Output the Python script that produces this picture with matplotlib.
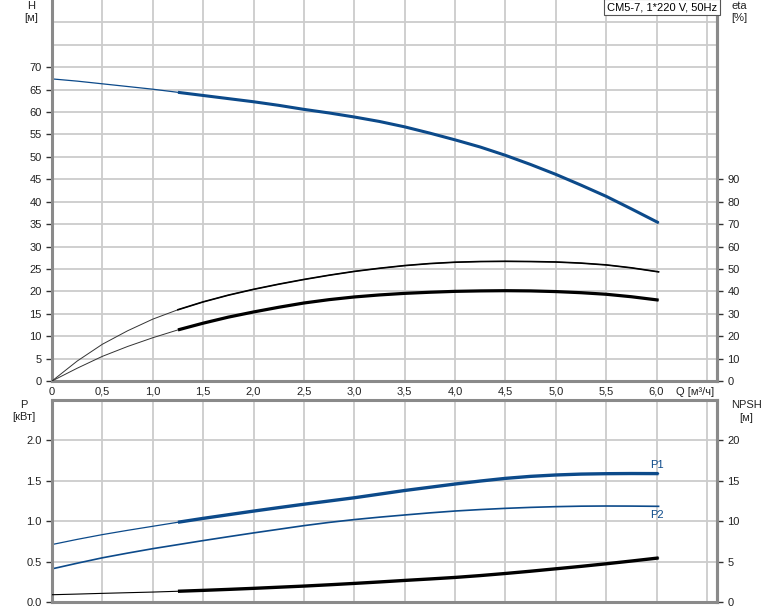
import matplotlib
matplotlib.use("Agg")
import matplotlib.pyplot as plt
import numpy as np

plt.rcParams['font.family'] = ['Liberation Sans', 'DejaVu Sans']

# ---- data ----
Q = [0, 0.25, 0.5, 0.75, 1.0, 1.25, 1.5, 1.75, 2.0, 2.25, 2.5, 2.75, 3.0, 3.25, 3.5,
     3.75, 4.0, 4.25, 4.5, 4.75, 5.0, 5.25, 5.5, 5.75, 6.02]
H = [67.4, 66.9, 66.3, 65.7, 65.1, 64.4, 63.7, 63.0, 62.3, 61.5, 60.6, 59.8, 58.9, 57.9, 56.7,
     55.3, 53.8, 52.2, 50.35, 48.3, 46.1, 43.7, 41.2, 38.4, 35.3]
eta1 = [0, 8.9, 16.4, 22.4, 27.6, 31.8, 35.3, 38.3, 40.9, 43.2, 45.3, 47.2, 48.9, 50.3, 51.5,
        52.4, 53.0, 53.3, 53.4, 53.3, 53.1, 52.6, 51.8, 50.5, 48.7]
eta2 = [0, 5.7, 11.0, 15.4, 19.3, 22.8, 25.8, 28.5, 30.8, 32.9, 34.8, 36.3, 37.5, 38.4, 39.1,
        39.6, 40.0, 40.2, 40.3, 40.2, 39.9, 39.4, 38.7, 37.6, 36.1]
P1 = [0.711, 0.775, 0.834, 0.887, 0.937, 0.987, 1.035, 1.08, 1.125, 1.168, 1.21, 1.25, 1.29,
      1.335, 1.38, 1.42, 1.46, 1.497, 1.53, 1.555, 1.572, 1.583, 1.588, 1.59, 1.589]
P2 = [0.41, 0.48, 0.547, 0.605, 0.66, 0.71, 0.76, 0.808, 0.855, 0.90, 0.945, 0.985, 1.02,
      1.05, 1.077, 1.103, 1.126, 1.144, 1.159, 1.171, 1.18, 1.186, 1.188, 1.187, 1.184]
NPSH = [0.9, 0.98, 1.07, 1.15, 1.23, 1.33, 1.44, 1.56, 1.69, 1.83, 1.97, 2.13, 2.30, 2.48, 2.67,
        2.85, 3.04, 3.27, 3.53, 3.81, 4.11, 4.41, 4.73, 5.07, 5.45]

x_ticks = [0, 0.5, 1.0, 1.5, 2.0, 2.5, 3.0, 3.5, 4.0, 4.5, 5.0, 5.5, 6.0]
x_labels = ['0', '0,5', '1,0', '1,5', '2,0', '2,5', '3,0', '3,5', '4,0', '4,5', '5,0', '5,5', '6,0']
h_ticks = [0, 5, 10, 15, 20, 25, 30, 35, 40, 45, 50, 55, 60, 65, 70]
h_extra_grid = [75, 80]
eta_ticks = [0, 10, 20, 30, 40, 50, 60, 70, 80, 90]
p_ticks = [0.0, 0.5, 1.0, 1.5, 2.0]
p_labels = ['0.0', '0.5', '1.0', '1.5', '2.0']
npsh_ticks = [0, 5, 10, 15, 20]
title_text = "CM5-7, 1*220 V, 50Hz"

start = 5  # operating range starts at Q=1.25

W, Hpx = 774, 611
fig = plt.figure(figsize=(W / 100, Hpx / 100), dpi=100)

L = 52 / W
R = 717 / W
ax1 = fig.add_axes([L, 1 - 381 / Hpx, R - L, 381 / Hpx])
ax2 = fig.add_axes([L, 1 - 602 / Hpx, R - L, (602 - 400) / Hpx])

blue = '#0c4a8a'
grid_c = '#cccccc'
spine_c = '#8a8a8a'
txt_c = '#222222'
fs = 8


def style(ax):
    ax.set_xlim(0, 6.6)
    ax.set_xticks(x_ticks)
    ax.set_xticks([6.5], minor=True)
    ax.grid(True, which='both', color=grid_c, linewidth=1.3)
    ax.set_axisbelow(True)
    for s in ['left', 'right', 'bottom', 'top']:
        ax.spines[s].set_color(spine_c)
        ax.spines[s].set_linewidth(2.2)
    ax.tick_params(axis='both', colors=txt_c, labelsize=fs, length=4, width=1, direction='out')
    ax.tick_params(axis='y', color='#333333')
    ax.tick_params(axis='x', length=0, which='both')
    ax.tick_params(axis='y', which='minor', length=0)


# ---- top axes ----
style(ax1)
ax1.spines['top'].set_visible(False)
ax1.set_ylim(0, 85)
ax1.set_yticks(h_ticks)
ax1.set_yticklabels([str(v) for v in h_ticks])
ax1.set_yticks(h_extra_grid, minor=True)
ax1.set_xticklabels(x_labels)
ax1.tick_params(axis='x', pad=4)

ax1.plot(Q, H, color=blue, lw=0.9)
ax1.plot(Q[start:], H[start:], color=blue, lw=2.2, solid_capstyle='butt')

ax1e = ax1.twinx()
ax1e.set_ylim(0, 170)
ax1e.set_yticks(eta_ticks)
ax1e.set_yticklabels([str(v) for v in eta_ticks])
for s in ['left', 'bottom', 'top']:
    ax1e.spines[s].set_visible(False)
ax1e.spines['right'].set_color(spine_c)
ax1e.spines['right'].set_linewidth(2.2)
ax1e.tick_params(axis='y', colors=txt_c, color='#333333', labelsize=fs, length=4, width=1)
ax1e.plot(Q, eta1, color='#333333', lw=0.7)
ax1e.plot(Q[start:], eta1[start:], color='black', lw=1.2)
ax1e.plot(Q, eta2, color='#333333', lw=0.7)
ax1e.plot(Q[start:], eta2[start:], color='black', lw=2.3, solid_capstyle='butt')

# ---- bottom axes ----
style(ax2)
ax2.set_ylim(0, 2.5)
ax2.set_yticks(p_ticks)
ax2.set_yticklabels(p_labels)
ax2.set_xticklabels([])
ax2.plot(Q, P1, color=blue, lw=0.9)
ax2.plot(Q[start:], P1[start:], color=blue, lw=2.4, solid_capstyle='butt')
ax2.plot(Q, P2, color=blue, lw=1.2)

ax2n = ax2.twinx()
ax2n.set_ylim(0, 25)
ax2n.set_yticks(npsh_ticks)
for s in ['left', 'bottom', 'top']:
    ax2n.spines[s].set_visible(False)
ax2n.spines['right'].set_color(spine_c)
ax2n.spines['right'].set_linewidth(2.2)
ax2n.tick_params(axis='y', colors=txt_c, color='#333333', labelsize=fs, length=4, width=1)
ax2n.plot(Q, NPSH, color='black', lw=0.8)
ax2n.plot(Q[start:], NPSH[start:], color='black', lw=2.4, solid_capstyle='butt')

ax2.text(Q[-1] - 0.02, P1[-1] + 0.04, 'P1', color=blue, fontsize=fs, ha='center', va='bottom')
ax2.text(Q[-1] - 0.02, P2[-1] - 0.04, 'P2', color=blue, fontsize=fs, ha='center', va='top')


# ---- labels ----
def ftxt(x, y, s, ha='center'):
    fig.text(x / W, 1 - y / Hpx, s, fontsize=fs, color=txt_c, ha=ha, va='center')


ftxt(31, 6, 'H')
ftxt(31, 18, '[м]')
ftxt(739, 6, 'eta')
ftxt(739, 18, '[%]')
ftxt(24, 405, 'P')
ftxt(24, 417, '[кВт]')
ftxt(746, 405, 'NPSH')
ftxt(746, 418, '[м]')
ftxt(695, 392, 'Q [м³/ч]')

fig.text(662 / W, 1 - 7 / Hpx, title_text, fontsize=fs, color='black', ha='center', va='center',
         bbox=dict(boxstyle='square,pad=0.25', facecolor='white', edgecolor='#555555', linewidth=0.8))

fig.savefig('out.png', dpi=100)
